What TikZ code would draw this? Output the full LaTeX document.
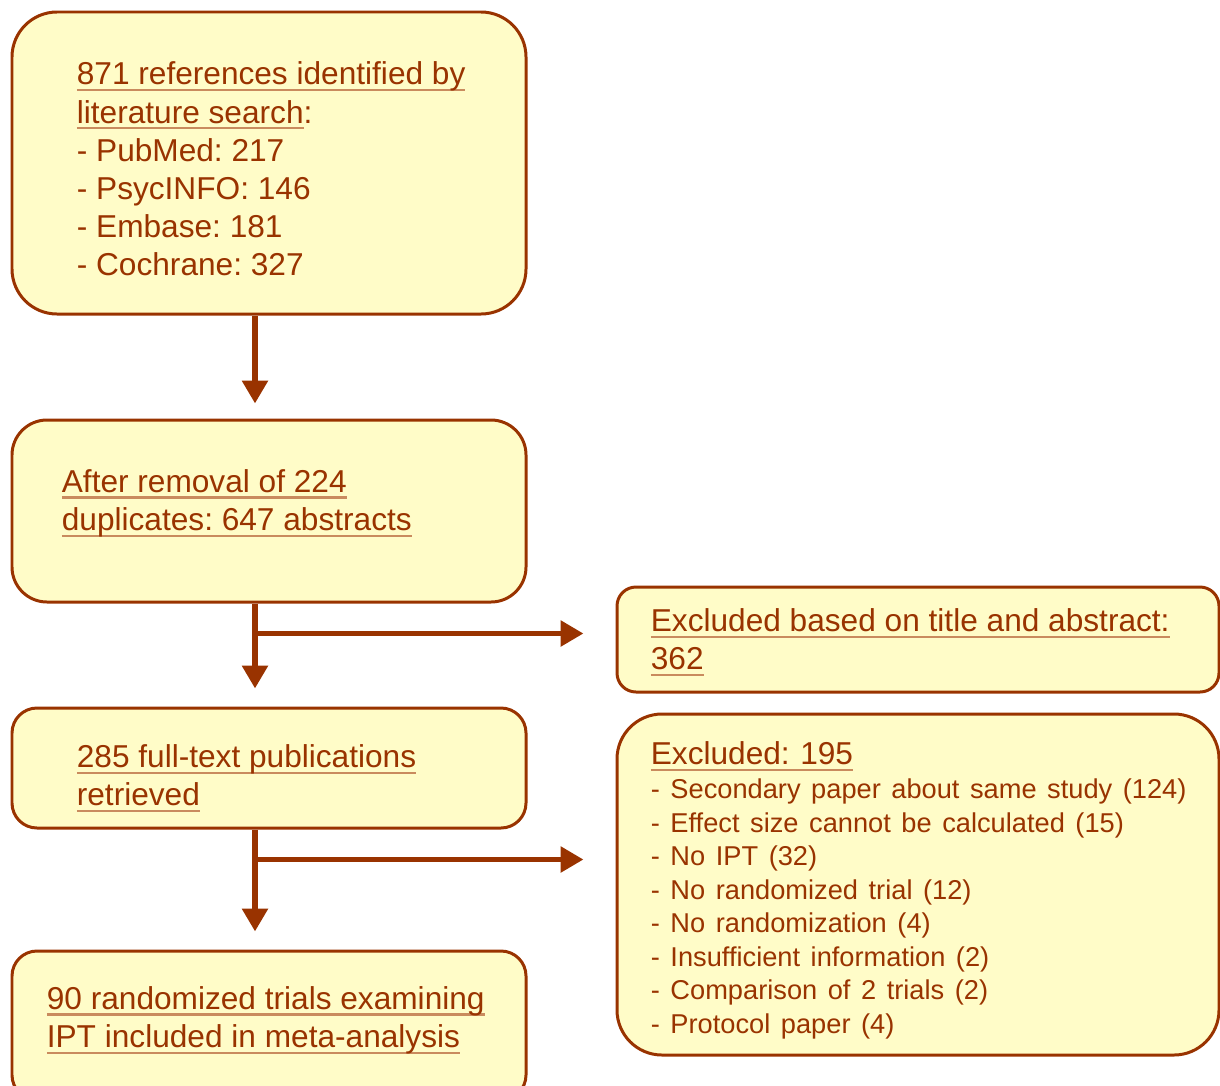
\documentclass[tikz,border=0pt]{standalone}
\usepackage{fontspec}
\setmainfont{Liberation Sans}
\usepackage{xcolor}
\usepackage{tikz}
\usetikzlibrary{arrows.meta, positioning, calc}
\definecolor{Rust}{HTML}{993300}
\definecolor{Cream}{HTML}{FFFCC8}
\definecolor{Tan}{HTML}{C98B5E}
\newsavebox{\ulbox}
\newcommand{\tanul}[1]{\leavevmode\sbox{\ulbox}{#1}%
    \rlap{\textcolor{Tan}{\rule[-3.6pt]{\wd\ulbox}{1.4pt}}}\usebox{\ulbox}}

\begin{document}
\begin{tikzpicture}[
    flowbox/.style={rectangle, draw=Rust, fill=Cream, line width=1.7pt},
    flowtext/.style={anchor=west, text=Rust, align=left, inner sep=0pt,
                     font=\fontsize{18}{21.7}\selectfont\frenchspacing},
    flow/.style={draw=Rust, line width=3.4pt,
                 -{Triangle[length=0.46cm, width=0.5cm]}}
]
    \useasboundingbox (0,0) rectangle (24.4,-21.7);

    % Main column
    \node[flowbox, rounded corners=0.9cm, minimum width=10.28cm,
          minimum height=6.04cm] (search) at (5.38,-3.26) {};
    \node[flowtext] (searchtext) at (search.west |- 0,-3.38) [xshift=1.32cm] {
        \tanul{871 references identified by}\\
        \tanul{literature search}:\\
        - PubMed: 217\\
        - PsycINFO: 146\\
        - Embase: 181\\
        - Cochrane: 327
    };

    \node[flowbox, rounded corners=0.7cm, minimum width=10.28cm,
          minimum height=3.64cm] (abstracts) at (5.38,-10.22) {};
    \node[flowtext] (abstractstext) at (abstracts.west |- 0,-10.07) [xshift=1.02cm] {
        \tanul{After removal of 224}\\
        \tanul{duplicates: 647 abstracts}
    };

    \node[flowbox, rounded corners=0.5cm, minimum width=10.28cm,
          minimum height=2.40cm] (fulltext) at (5.38,-15.36) {};
    \node[flowtext] (fulltexttext) at (fulltext.west |- 0,-15.57) [xshift=1.32cm] {
        \tanul{285 full-text publications}\\
        \tanul{retrieved}
    };

    \node[flowbox, rounded corners=0.5cm, minimum width=10.28cm,
          minimum height=2.98cm] (included) at (5.38,-20.51) {};
    \node[flowtext] (includedtext) at (included.west |- 0,-20.41) [xshift=0.72cm] {
        \tanul{90 randomized trials examining}\\
        \tanul{IPT included in meta-analysis}
    };

    % Exclusion boxes
    \node[flowbox, rounded corners=0.38cm, minimum width=12.04cm,
          minimum height=2.10cm] (excltitle) at (18.36,-12.79) {};
    \node[flowtext] (excltitletext) at (excltitle.west |- 0,-12.85) [xshift=0.7cm] {
        \tanul{Excluded based on title and abstract:}\\
        \tanul{362}
    };

    \node[flowbox, rounded corners=0.9cm, minimum width=12.04cm,
          minimum height=6.82cm] (exclfull) at (18.36,-17.69) {};
    \node[flowtext, text width=11cm] (exclfulltext) at (exclfull.west |- 0,-17.81)
          [xshift=0.7cm] {
        \tanul{Excluded: 195}\\
        \fontsize{15.5}{19.1}\selectfont
        - Secondary paper about same study (124)\\
        - Effect size cannot be calculated (15)\\
        - No IPT (32)\\
        - No randomized trial (12)\\
        - No randomization (4)\\
        - Insufficient information (2)\\
        - Comparison of 2 trials (2)\\
        - Protocol paper (4)\par
    };

    % Flow arrows
    \draw[flow, shorten >=0.3cm] ([xshift=-0.28cm]search.south)
        -- ([xshift=-0.28cm]abstracts.north);
    \draw[flow, shorten >=0.36cm] ([xshift=-0.28cm]abstracts.south)
        -- ([xshift=-0.28cm]fulltext.north);
    \draw[flow, shorten >=0.36cm] ([xshift=-0.28cm]fulltext.south)
        -- ([xshift=-0.28cm]included.north);

    % Branches to exclusions
    \coordinate (split1) at ($([xshift=-0.28cm]abstracts.south)+(0,-0.6)$);
    \coordinate (split2) at ($([xshift=-0.28cm]fulltext.south)+(0,-0.6)$);
    \draw[flow, shorten >=0.64cm] (split1) -- (split1 -| excltitle.west);
    \draw[flow, shorten >=0.64cm] (split2) -- (split2 -| exclfull.west);
\end{tikzpicture}
\end{document}
